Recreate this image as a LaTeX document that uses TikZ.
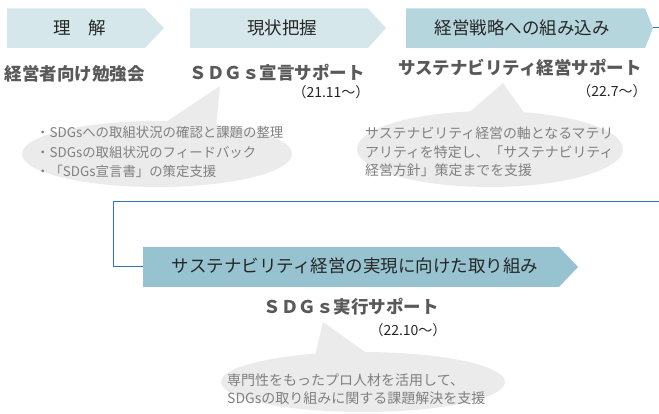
\documentclass[tikz,border=0pt]{standalone}
\usepackage{fontspec}
\setmainfont{Noto Sans CJK JP}
\definecolor{boxlight}{HTML}{D6E7EB}
\definecolor{boxmid}{HTML}{B6D6DD}
\definecolor{boxdark}{HTML}{96C3CF}
\definecolor{lineblue}{HTML}{2E75B6}
\definecolor{bubfill}{HTML}{EBEBEB}
\definecolor{headgray}{HTML}{595959}
\definecolor{bubgray}{HTML}{808080}
\definecolor{txtdark}{HTML}{262626}
\begin{document}
\begin{tikzpicture}[x=1pt,y=-1pt,
  boxtxt/.style={font=\fontsize{17.5}{20}\selectfont, text=txtdark, inner sep=0},
  headtxt/.style={font=\bfseries\fontsize{17.5}{20}\selectfont, text=headgray, inner sep=0},
  datetxt/.style={font=\fontsize{14}{16}\selectfont, text=txtdark, inner sep=0},
  bubtxt/.style={text=bubgray, inner sep=0, align=left, anchor=west},
  bubble/.style={fill=bubfill, draw=none},
  flow/.style={draw=lineblue, line width=1pt}]
\useasboundingbox (0,0) rectangle (659,414);

% pentagon arrows
\fill[boxlight] (7,8.5) -- (145,8.5) -- (164,28) -- (145,48) -- (7,48) -- cycle;
\fill[boxlight] (190,8.5) -- (368,8.5) -- (386,28) -- (368,48) -- (190,48) -- cycle;
\fill[boxmid] (406,8.5) -- (645,8.5) -- (653,28) -- (645,48) -- (406,48) -- cycle;
\fill[boxdark] (143,247) -- (559,247) -- (578,267) -- (559,287) -- (143,287) -- cycle;

\node[boxtxt] (t1) at (80,28) {理　解};
\node[boxtxt] (t2) at (282,28) {現状把握};
\node[boxtxt] (t3) at (522,28) {経営戦略への組み込み};
\node[boxtxt] (t4) at (355,266) {サステナビリティ経営の実現に向けた取り組み};

% connector
\coordinate (b3tip) at (653,28);
\coordinate (outA) at (659,28);
\coordinate (outB) at (659,202);
\coordinate (bend) at (113,202);
\coordinate (b4in) at (143,267);
\draw[flow] (b3tip) -- (outA);
\draw[flow] (outB) -- (bend) |- (b4in);

% bubbles
\fill[bubble] (157,154) ellipse [x radius=135, y radius=33];
\fill[bubble] (160,126) -- (220,86) -- (216,128) -- cycle;
\fill[bubble] (490,149) ellipse [x radius=133, y radius=38];
\fill[bubble] (465,116) -- (503,83) -- (525,114) -- cycle;
\fill[bubble] (363,382) ellipse [x radius=142, y radius=30];
\fill[bubble] (315,356) -- (323,322) -- (368,354) -- cycle;

% headings
\node[headtxt] (h1) at (75,73.5) {経営者向け勉強会};
\node[headtxt] (h2) at (277,73) {ＳＤＧｓ宣言サポート};
\node[headtxt] (h3) at (520,68) {サステナビリティ経営サポート};
\node[headtxt] (h4) at (351,307) {ＳＤＧｓ実行サポート};

\node[datetxt] (d2) at (331,92) {（21.11～）};
\node[datetxt] (d3) at (612,91) {（22.7～）};
\node[datetxt] (d4) at (408,330) {（22.10～）};

% bubble texts
\node[bubtxt, font=\fontsize{13.4}{19.5}\selectfont] (s1) at (36,152) {・SDGsへの取組状況の確認と課題の整理\\・SDGsの取組状況のフィードバック\\・「SDGs宣言書」の策定支援};
\node[bubtxt, font=\fontsize{13.9}{18.5}\selectfont] (s2) at (365,152) {サステナビリティ経営の軸となるマテリ\\アリティを特定し、「サステナビリティ\\経営方針」策定までを支援};
\node[bubtxt, font=\fontsize{14}{18}\selectfont] (s3) at (227,389) {専門性をもったプロ人材を活用して、\\SDGsの取り組みに関する課題解決を支援};
\end{tikzpicture}
\end{document}
